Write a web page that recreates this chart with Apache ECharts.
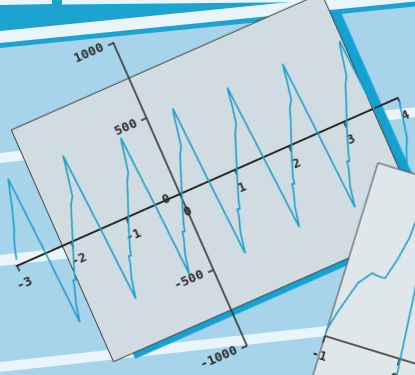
<!DOCTYPE html>
<html>
<head>
<meta charset="utf-8">
<script src="https://cdn.jsdelivr.net/npm/echarts@6/dist/echarts.min.js"></script>
<style>
  html, body { margin: 0; padding: 0; width: 415px; height: 375px; overflow: hidden; background: #a7d4ea; }
  #bg { position: absolute; left: 0; top: 0; width: 415px; height: 375px; }
  /* main plot is tilted about its own origin (x = 0, y = 0) */
  #main { position: absolute; left: -60px; top: 3.5px; width: 500px; height: 380px;
          transform-origin: 240px 190px; transform: rotate(-23.8deg); }
  /* second sheet lying on top, tilted the other way */
  #inset { position: absolute; left: 275px; top: 136px; width: 300px; height: 400px;
           transform-origin: 50px 200px; transform: rotate(17deg); }
</style>
</head>
<body>
<div id="bg"></div>
<div id="main"></div>
<div id="inset"></div>
<script>
// ---- data -------------------------------------------------------------
const xTicks = [-3, -2, -1, 0, 1, 2, 3, 4];
const yTicks = [-1000, -500, 0, 500, 1000];

// sampled waveform: slow ramp up (with two small kinks), sharp drop
const waveX = [
  -2.96, -2.90, -2.83, -2.80, -2.77, -2.74, -2.66, -2.61, -2.54, -2.47,
  -2.41, -2.34, -2.25, -2.23, -2.19, -2.16, -2.02, -1.82, -1.75, -1.72, -1.67, -1.61, -1.56, -1.54, -1.46,
  -1.39, -1.32, -1.23, -1.21, -1.17, -1.14, -1.00, -0.80, -0.73, -0.70, -0.65, -0.59, -0.55, -0.53, -0.46,
  -0.40, -0.33, -0.24, -0.22, -0.18, -0.15, -0.01, 0.19, 0.26, 0.29, 0.34, 0.40, 0.44, 0.47, 0.53,
  0.60, 0.67, 0.76, 0.78, 0.82, 0.85, 0.99, 1.19, 1.26, 1.29, 1.34, 1.40, 1.43, 1.45, 1.53,
  1.61, 1.68, 1.77, 1.79, 1.83, 1.85, 1.99, 2.20, 2.27, 2.30, 2.35, 2.41, 2.44, 2.46, 2.53,
  2.60, 2.67, 2.77, 2.79, 2.83, 2.86, 3.00, 3.21, 3.28, 3.31, 3.36, 3.42, 3.46, 3.49, 3.56,
  3.62, 3.70, 3.79, 3.87, 3.94, 4.00
];
const waveY = [
  35, 110, 180, 198, 196, 262, 350, 415, 502, 20,
  -465, -350, -255, -215, -222, -180, -45, 140, 205, 200, 250, 360, 450, 498, 10,
  -471, -350, -255, -215, -222, -180, -45, 130, 195, 190, 245, 350, 420, 455, 0,
  -464, -345, -250, -212, -220, -176, -40, 145, 210, 205, 260, 370, 450, 489, 0,
  -486, -360, -262, -222, -230, -186, -50, 135, 200, 195, 250, 360, 435, 472, 0,
  -474, -353, -257, -216, -224, -182, -50, 136, 205, 200, 250, 360, 429, 469, 0,
  -499, -370, -265, -225, -232, -190, -55, 130, 195, 190, 245, 350, 420, 456, 0,
  -470, -380, -300, -246, -130, -20
];

// second sheet: x-axis ticks and the visible part of its trace
const insetTicks = [-1, 0, 1, 2];
const insetX = [-1.02, -0.94, -0.795, -0.66, -0.546, -0.48, -0.40, -0.33, -0.32, -0.22, -0.069, 0.028, 0.08];
const insetY = [5, 154, 364, 446, 438, 440, 566, 721, 811, 1000, 425, -98, -400];

// ---- layout / style ---------------------------------------------------
const frameX = [-2.16, 3.54];      // grey sheet extent in data units
const frameY = [-765, 765];
const insetFrameX = [-1, 2.4];
const insetFrameY = [-1500, 1093];

const INK = '#2b2b2b';
const TRACE = '#1b9fca';
const labelFont = {
  fontFamily: '"DejaVu Sans Mono", "Liberation Mono", monospace',
  fontWeight: 'bold', fontSize: 13, color: INK
};
const plain = v => String(v);

// axes cross at (0, 0): shift each axis from the grid edge to the zero line
function zeroOffsets(grid, xMin, xMax, yMin, yMax) {
  return {
    x: -grid.height * (0 - yMin) / (yMax - yMin),
    y: -grid.width * (0 - xMin) / (xMax - xMin)
  };
}

// ---- backdrop ---------------------------------------------------------
const bg = echarts.init(document.getElementById('bg'));
const W = 415, SL = 0.11;
const stripe = (a, b, fill) => ({
  type: 'polygon',
  shape: { points: [[0, a], [W, a - SL * W], [W, b - SL * W], [0, b]] },
  style: { fill: fill }
});
bg.setOption({
  animation: false,
  graphic: [
    { type: 'rect', shape: { x: 0, y: 0, width: W, height: 375 }, style: { fill: '#a7d4ea' } },
    { type: 'polygon', shape: { points: [[0, 0], [W, 0], [W, 6.5], [0, 48]] }, style: { fill: '#1da3d0' } },
    { type: 'polygon', shape: { points: [[0, 31], [0, 43], [W, 1.5], [W, 0], [310, 0]] }, style: { fill: '#e9f5fa' } },
    { type: 'polygon', shape: { points: [[0, 0], [52, 0], [52, 4], [0, 5]] }, style: { fill: '#e9f5fa' } },
    { type: 'polygon', shape: { points: [[62, 0], [W, 0], [W, 1], [62, 4.5]] }, style: { fill: '#e9f5fa' } },
    stripe(153, 163, '#e9f5fa'),
    stripe(255, 266, '#e9f5fa'),
    stripe(362, 372, '#e9f5fa')
  ]
});

// ---- main plot --------------------------------------------------------
const mainGrid = { left: 61.5, top: 24.4, width: 416.5, height: 331.2 };
const xMin = xTicks[0], xMax = xTicks[xTicks.length - 1];
const yMin = yTicks[0], yMax = yTicks[yTicks.length - 1];
const mainOff = zeroOffsets(mainGrid, xMin, xMax, yMin, yMax);

const main = echarts.init(document.getElementById('main'));
main.setOption({
  animation: false,
  backgroundColor: 'transparent',
  grid: mainGrid,
  xAxis: {
    type: 'value', min: xMin, max: xMax, interval: 1, offset: mainOff.x,
    axisLine: { onZero: false, lineStyle: { color: INK, width: 2 } },
    axisTick: { length: 6, lineStyle: { color: INK, width: 1.5 } },
    axisLabel: Object.assign({ margin: 13, formatter: plain, showMinLabel: true, showMaxLabel: true }, labelFont),
    splitLine: { show: false }
  },
  yAxis: {
    type: 'value', min: yMin, max: yMax, interval: 500, offset: mainOff.y,
    axisLine: { show: true, onZero: false, lineStyle: { color: INK, width: 1.5 } },
    axisTick: { show: true, length: 6, lineStyle: { color: INK, width: 1.5 } },
    axisLabel: Object.assign({ margin: 11, formatter: plain, padding: [7, 0, 0, 0] }, labelFont),
    splitLine: { show: false }
  },
  series: [{
    type: 'line', symbol: 'none', z: 3,
    data: waveX.map((x, i) => [x, waveY[i]]),
    lineStyle: { color: TRACE, width: 1.6 }
  }]
});
{
  const tl = main.convertToPixel({ gridIndex: 0 }, [frameX[0], frameY[1]]);
  const br = main.convertToPixel({ gridIndex: 0 }, [frameX[1], frameY[0]]);
  const pw = br[0] - tl[0], ph = br[1] - tl[1];
  main.setOption({
    graphic: [
      { type: 'rect', z: -10, silent: true,
        shape: { x: tl[0] + pw, y: tl[1] + 23, width: 10, height: ph - 23 + 6 },
        style: { fill: '#13a2d1' } },
      { type: 'rect', z: -10, silent: true,
        shape: { x: tl[0] + 21, y: tl[1] + ph, width: pw - 21 + 10, height: 6 },
        style: { fill: '#13a2d1' } },
      { type: 'rect', z: -9, silent: true,
        shape: { x: tl[0], y: tl[1], width: pw, height: ph },
        style: { fill: '#d1dbe2', stroke: '#454545', lineWidth: 1 } }
    ]
  });
}

// ---- second sheet -----------------------------------------------------
const insetGrid = { left: 50, top: 34.4, width: 234, height: 331.2 };
const insetOff = zeroOffsets(insetGrid, insetTicks[0], insetTicks[insetTicks.length - 1], -1000, 1000);
const inset = echarts.init(document.getElementById('inset'));
inset.setOption({
  animation: false,
  backgroundColor: 'transparent',
  grid: insetGrid,
  xAxis: {
    type: 'value', min: insetTicks[0], max: insetTicks[insetTicks.length - 1], interval: 1,
    offset: insetOff.x,
    axisLine: { onZero: false, lineStyle: { color: INK, width: 1.6 } },
    axisTick: { length: 7, lineStyle: { color: INK, width: 1.5 } },
    axisLabel: Object.assign({ margin: 14, formatter: plain }, labelFont),
    splitLine: { show: false }
  },
  yAxis: { type: 'value', min: -1000, max: 1000, show: false },
  series: [{
    type: 'line', symbol: 'none', z: 3,
    data: insetX.map((x, i) => [x, insetY[i]]),
    lineStyle: { color: TRACE, width: 1.6 }
  }]
});
{
  const tl = inset.convertToPixel({ gridIndex: 0 }, [insetFrameX[0], insetFrameY[1]]);
  const br = inset.convertToPixel({ gridIndex: 0 }, [insetFrameX[1], insetFrameY[0]]);
  inset.setOption({
    graphic: [
      { type: 'rect', z: -9, silent: true,
        shape: { x: tl[0], y: tl[1], width: br[0] - tl[0], height: br[1] - tl[1] },
        style: { fill: '#e0e7eb', stroke: '#4a4a4a', lineWidth: 1 } }
    ]
  });
}
</script>
</body>
</html>
